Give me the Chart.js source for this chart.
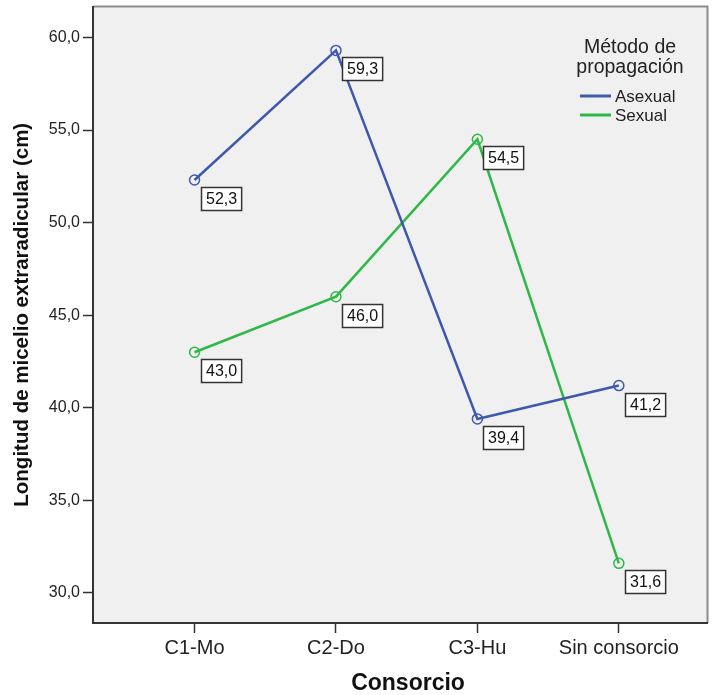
<!DOCTYPE html>
<html>
<head>
<meta charset="utf-8">
<script src="https://cdn.jsdelivr.net/npm/chart.js@4/dist/chart.umd.min.js"></script>
<style>
  html, body { margin: 0; padding: 0; background: #ffffff; }
  #wrap { width: 714px; height: 695px; }
</style>
</head>
<body>
<div id="wrap"><canvas id="c" width="714" height="695"></canvas></div>
<script>
// Categories and group means
const categories = ['C1-Mo', 'C2-Do', 'C3-Hu', 'Sin consorcio'];
const asexual = [52.3, 59.3, 39.4, 41.2];
const sexual = [43.0, 46.0, 54.5, 31.6];
const seriesNames = ['Asexual', 'Sexual'];
const yTicks = [30, 35, 40, 45, 50, 55, 60];
const legendTitle = ['Método de', 'propagación'];
const xTitle = 'Consorcio';

const FONT = '"Liberation Sans", Arial, sans-serif';
const fmt = v => v.toFixed(1).replace('.', ',');
const toPoints = arr => arr.map((v, i) => ({ x: i, y: v }));

// Plot-area background and the light top/right frame
const framePlugin = {
  id: 'frame',
  beforeDraw(chart) {
    const { ctx, chartArea: a } = chart;
    ctx.save();
    ctx.fillStyle = '#f0f0f0';
    ctx.fillRect(a.left, a.top, a.right - a.left, a.bottom - a.top);
    ctx.strokeStyle = '#8c8c8c';
    ctx.lineWidth = 2;
    ctx.beginPath();
    ctx.moveTo(a.left, a.top);
    ctx.lineTo(a.right, a.top);
    ctx.lineTo(a.right, a.bottom);
    ctx.stroke();
    ctx.restore();
  }
};

// Boxed value labels below-right of each point
const valueLabels = {
  id: 'valueLabels',
  afterDatasetsDraw(chart) {
    const { ctx } = chart;
    ctx.save();
    ctx.font = '16px ' + FONT;
    ctx.textAlign = 'center';
    ctx.textBaseline = 'middle';
    chart.data.datasets.forEach((ds, di) => {
      const meta = chart.getDatasetMeta(di);
      meta.data.forEach((pt, i) => {
        const txt = fmt(ds.data[i].y);
        const w = ctx.measureText(txt).width + 9;
        const h = 23;
        const bx = Math.round(pt.x + 6) + 0.5;
        const by = Math.round(pt.y + 7) + 0.5;
        ctx.fillStyle = '#ffffff';
        ctx.fillRect(bx, by, w, h);
        ctx.strokeStyle = '#333333';
        ctx.lineWidth = 1.5;
        ctx.strokeRect(bx, by, w, h);
        ctx.fillStyle = '#111111';
        ctx.fillText(txt, bx + w / 2, by + h / 2 + 1);
      });
    });
    ctx.restore();
  }
};

// Legend with a two-line title inside the plot area, plus the category-axis title
const legendBox = {
  id: 'legendBox',
  afterDraw(chart) {
    const { ctx } = chart;
    ctx.save();
    ctx.fillStyle = '#222222';
    ctx.textAlign = 'center';
    ctx.textBaseline = 'middle';
    ctx.font = '19.5px ' + FONT;
    ctx.fillText(legendTitle[0], 630, 48);
    ctx.fillText(legendTitle[1], 630, 68);
    ctx.font = '17px ' + FONT;
    ctx.textAlign = 'left';
    chart.data.datasets.forEach((ds, i) => {
      const y = 96 + i * 19;
      ctx.strokeStyle = ds.borderColor;
      ctx.lineWidth = 3;
      ctx.beginPath();
      ctx.moveTo(580, y);
      ctx.lineTo(611, y);
      ctx.stroke();
      ctx.fillStyle = '#222222';
      ctx.fillText(ds.label, 615, y + 1);
    });
    ctx.font = 'bold 23px ' + FONT;
    ctx.fillStyle = '#111111';
    ctx.textAlign = 'center';
    ctx.fillText(xTitle, 408, 684);
    ctx.restore();
  }
};

const colors = ['#3e58ac', '#2eb848'];
const makeDataset = (label, values, color) => ({
  label,
  data: toPoints(values),
  borderColor: color,
  backgroundColor: 'rgba(0,0,0,0)',
  borderWidth: 2.5,
  pointRadius: 5,
  pointBorderWidth: 1.5,
  pointBorderColor: color,
  pointBackgroundColor: 'rgba(0,0,0,0)',
  tension: 0
});

new Chart(document.getElementById('c'), {
  type: 'line',
  data: {
    datasets: [
      makeDataset(seriesNames[0], asexual, colors[0]),
      makeDataset(seriesNames[1], sexual, colors[1])
    ]
  },
  plugins: [framePlugin, valueLabels, legendBox],
  options: {
    responsive: false,
    animation: false,
    layout: { padding: { top: 5, right: 4, left: 0, bottom: 0 } },
    plugins: { legend: { display: false }, tooltip: { enabled: false } },
    scales: {
      x: {
        type: 'linear',
        min: -0.718,
        max: 3.627,
        afterBuildTicks(scale) { scale.ticks = categories.map((_, i) => ({ value: i })); },
        afterFit(scale) {
          scale.height = 72;
          scale.paddingLeft = 0; scale.paddingRight = 0;
          scale.paddingTop = 0; scale.paddingBottom = 0;
        },
        ticks: {
          callback: v => categories[v],
          font: { family: FONT, size: 20 },
          color: '#222222',
          padding: 3,
          maxRotation: 0,
          autoSkip: false
        },
        grid: { drawOnChartArea: false, drawTicks: true, tickLength: 10, tickColor: '#333333', tickWidth: 1.5 },
        border: { display: true, color: '#333333', width: 2 },
        title: { display: false }
      },
      y: {
        min: 28.38,
        max: 61.67,
        afterBuildTicks(scale) { scale.ticks = yTicks.map(v => ({ value: v })); },
        afterFit(scale) {
          scale.width = 93;
          scale.paddingLeft = 0; scale.paddingRight = 0;
          scale.paddingTop = 0; scale.paddingBottom = 0;
        },
        ticks: {
          callback: v => fmt(v),
          font: { family: FONT, size: 16 },
          color: '#222222',
          padding: 3
        },
        grid: { drawOnChartArea: false, drawTicks: true, tickLength: 10, tickColor: '#333333', tickWidth: 1.5 },
        border: { display: true, color: '#333333', width: 2 },
        title: {
          display: true,
          text: 'Longitud de micelio extraradicular (cm)',
          font: { family: FONT, size: 20.5, weight: 'bold' },
          color: '#111111',
          padding: { top: 10, bottom: 0 }
        }
      }
    }
  }
});
</script>
</body>
</html>
